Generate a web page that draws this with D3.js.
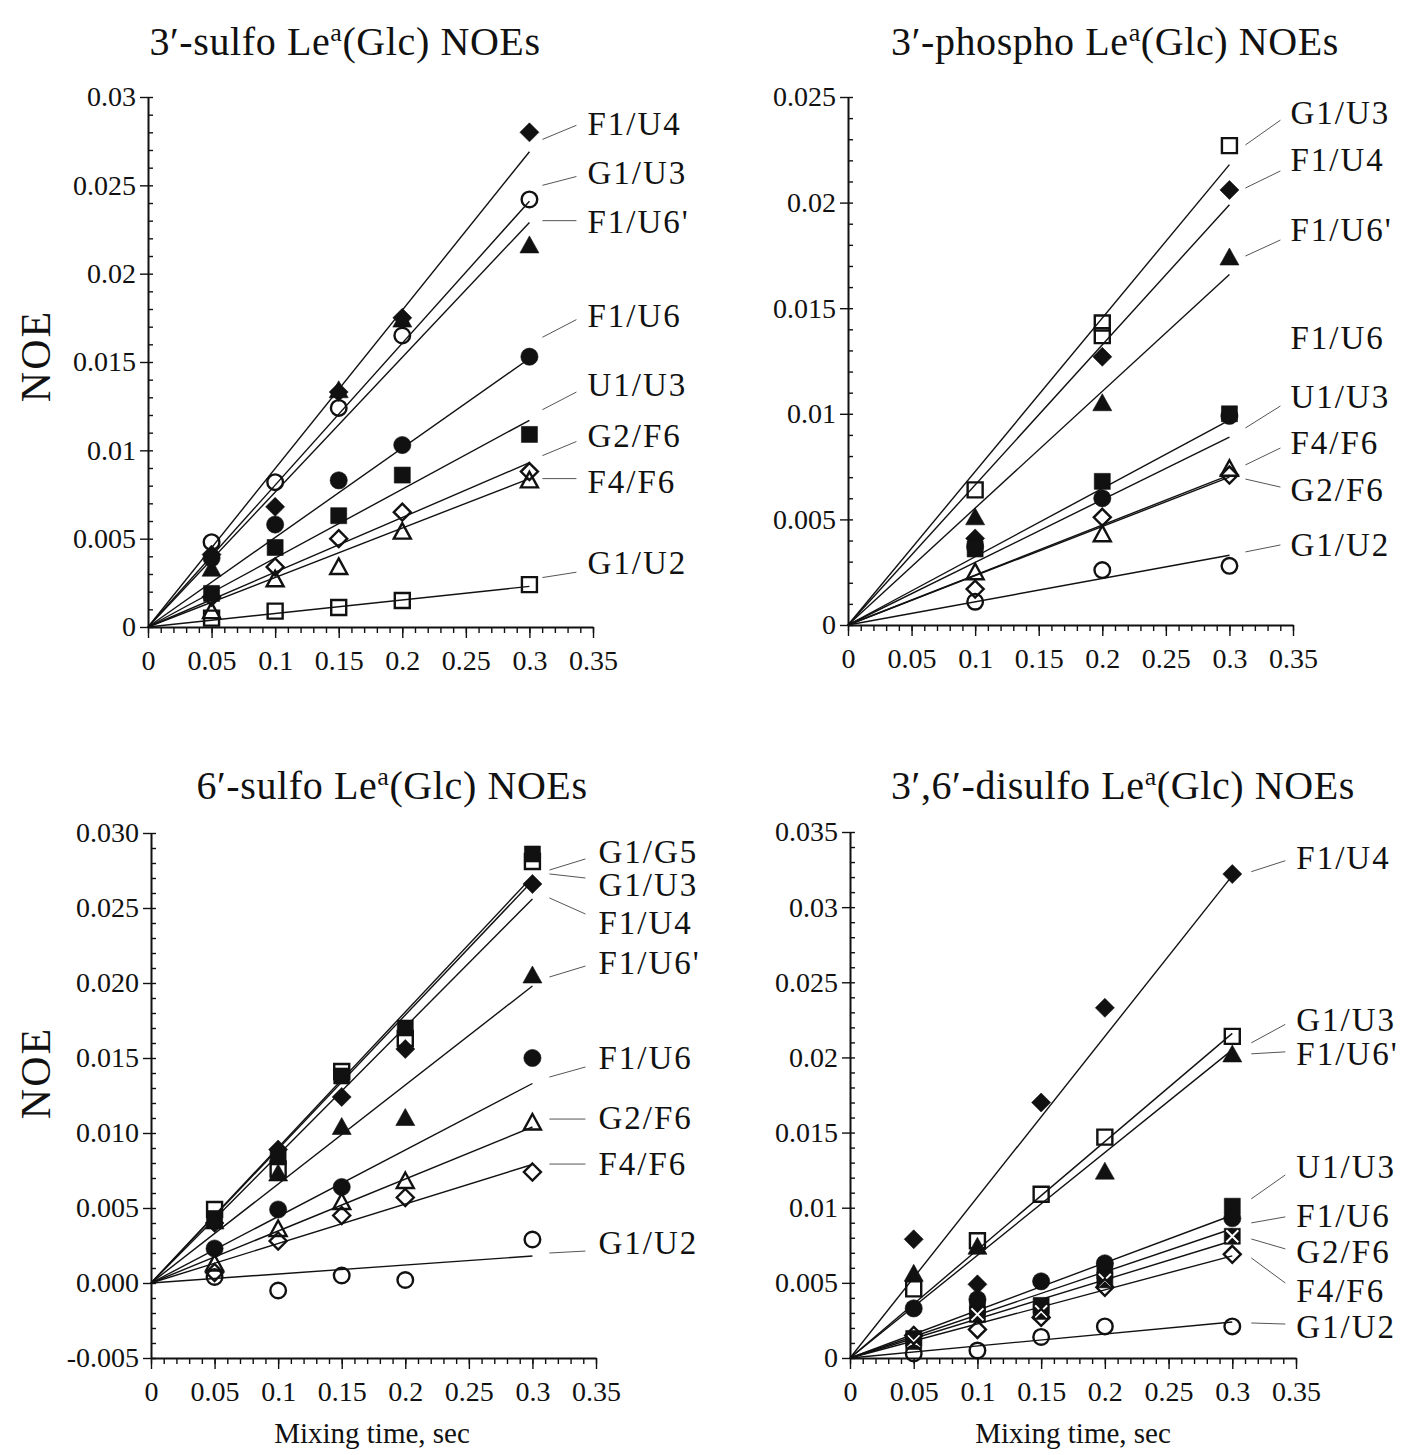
<!DOCTYPE html>
<html>
<head>
<meta charset="utf-8">
<script src="https://cdn.jsdelivr.net/npm/d3@7"></script>
<style>
  body { margin: 0; background: #fff; }
  svg { display: block; }
  text { font-family: "Liberation Serif", "Times New Roman", serif; fill: #111; }
</style>
</head>
<body>
<svg id="chart" width="1407" height="1455"></svg>
<script>
// ---------------- data ----------------
// Mixing times (s) at which NOEs were measured
const sulfoTimes    = [0.05, 0.1, 0.15, 0.2, 0.3];
const phosphoTimes  = [0.1, 0.2, 0.3];
const sulfo6Times   = [0.05, 0.1, 0.15, 0.2, 0.3];
const disulfoTimes  = [0.05, 0.1, 0.15, 0.2, 0.3];

// 3'-sulfo Le^a(Glc)
const sulfoPairs = ["F1/U4", "G1/U3", "F1/U6'", "F1/U6", "U1/U3", "G2/F6", "F4/F6", "G1/U2"];
const sulfoNOE = [
  [0.0041, 0.0068, 0.0133, 0.0175, 0.0280],
  [0.0048, 0.0082, 0.0124, 0.0165, 0.0242],
  [0.0033, null,   0.0134, 0.0174, 0.0216],
  [0.0039, 0.0058, 0.0083, 0.0103, 0.0153],
  [0.0019, 0.0045, 0.0063, 0.0086, 0.0109],
  [0.0017, 0.0034, 0.0050, 0.0065, 0.0088],
  [0.0009, 0.0027, 0.0034, 0.0054, 0.0083],
  [0.0005, 0.0009, 0.0011, 0.0015, 0.0024]
];
const sulfoFitAt300 = [0.0269, 0.0241, 0.0229, 0.0152, 0.0117, 0.0093, 0.0084, 0.0023];

// 3'-phospho Le^a(Glc)  (an inner array holds repeated measurements)
const phosphoPairs = ["G1/U3", "F1/U4", "F1/U6'", "F1/U6", "U1/U3", "F4/F6", "G2/F6", "G1/U2"];
const phosphoNOE = [
  [0.0064, [0.0143, 0.0137], 0.0227],
  [0.0041, 0.0127, 0.0206],
  [0.0051, 0.0105, 0.0174],
  [0.0037, 0.0060, 0.0099],
  [0.0036, 0.0068, 0.0100],
  [0.0025, 0.0043, 0.0074],
  [0.0017, 0.0051, 0.0071],
  [0.0011, 0.0026, 0.0028]
];
const phosphoFitAt300 = [0.0218, 0.0199, 0.0166, 0.0089, 0.0097, 0.0071, 0.0070, 0.0033];

// 6'-sulfo Le^a(Glc)
const sulfo6Pairs = ["G1/G5", "G1/U3", "F1/U4", "F1/U6'", "F1/U6", "G2/F6", "F4/F6", "G1/U2"];
const sulfo6NOE = [
  [0.0043, 0.0084, 0.0138, 0.0170, 0.0286],
  [0.0049, 0.0076, 0.0141, 0.0163, 0.0281],
  [0.0040, 0.0089, 0.0124, 0.0156, 0.0266],
  [0.0041, 0.0073, 0.0104, 0.0110, 0.0205],
  [0.0023, 0.0049, 0.0064, null,   0.0150],
  [0.0013, 0.0036, 0.0054, 0.0068, 0.0107],
  [0.0007, 0.0028, 0.0045, 0.0057, 0.0074],
  [0.0004, -0.0005, 0.0005, 0.0002, 0.0029]
];
const sulfo6FitAt300 = [0.0271, 0.0268, 0.0256, 0.0198, 0.0133, 0.0104, 0.0079, 0.0018];

// 3',6'-disulfo Le^a(Glc)
const disulfoPairs = ["F1/U4", "G1/U3", "F1/U6'", "U1/U3", "F1/U6", "G2/F6", "F4/F6", "G1/U2"];
const disulfoNOE = [
  [0.0079, 0.0049, 0.0170, 0.0233, 0.0322],
  [0.0046, 0.0078, 0.0109, 0.0147, 0.0214],
  [0.0056, 0.0074, null,   0.0124, 0.0202],
  [0.0013, 0.0034, 0.0035, 0.0058, 0.0101],
  [0.0033, 0.0039, 0.0051, 0.0063, 0.0093],
  [0.0011, 0.0029, 0.0031, 0.0052, 0.0081],
  [0.0015, 0.0019, 0.0027, 0.0047, 0.0069],
  [0.0003, 0.0005, 0.0014, 0.0021, 0.0021]
];
const disulfoFitAt300 = [0.0321, 0.0216, 0.0205, 0.0095, 0.0086, 0.0078, 0.0068, 0.0024];

// Tick labels
const xTickLabels          = ["0", "0.05", "0.1", "0.15", "0.2", "0.25", "0.3", "0.35"];
const sulfoYTickLabels     = ["0", "0.005", "0.01", "0.015", "0.02", "0.025", "0.03"];
const phosphoYTickLabels   = ["0", "0.005", "0.01", "0.015", "0.02", "0.025"];
const sulfo6YTickLabels    = ["-0.005", "0.000", "0.005", "0.010", "0.015", "0.020", "0.025", "0.030"];
const disulfoYTickLabels   = ["0", "0.005", "0.01", "0.015", "0.02", "0.025", "0.03", "0.035"];

// ---------------- styling & layout ----------------
const sulfoMarkers   = ["diamond", "circleOpen", "triangle", "circle", "square", "diamondOpen", "triangleOpen", "squareOpen"];
const phosphoMarkers = ["squareOpen", "diamond", "triangle", "circle", "square", "triangleOpen", "diamondOpen", "circleOpen"];
const sulfo6Markers  = ["square", "squareOpen", "diamond", "triangle", "circle", "triangleOpen", "diamondOpen", "circleOpen"];
const disulfoMarkers = ["diamond", "squareOpen", "triangle", "square", "circle", "boxX", "diamondOpen", "circleOpen"];

// Pair-label placement, in NOE units on each panel's y scale
const sulfoLabelY    = [0.0285, 0.0257, 0.0229, 0.0176, 0.0137, 0.0108, 0.0082, 0.0036];
const sulfoLeadFrom  = [0.0276, 0.0250, 0.0230, 0.0164, 0.0123, 0.0097, 0.0084, 0.0028];
const sulfoLeadTo    = [0.0284, 0.0255, 0.0230, 0.0174, 0.0133, 0.0105, 0.0084, 0.0031];
const phosphoLabelY   = [0.02424, 0.02202, 0.0187, 0.01359, 0.0108, 0.00862, 0.00639, 0.00379];
const phosphoLeadFrom = [0.02273, 0.02069, 0.01747, null, 0.00933, 0.00758, 0.00691, 0.00346];
const phosphoLeadTo   = [0.0239, 0.0215, 0.01823, null, 0.01037, 0.00838, 0.00653, 0.00379];
const sulfo6LabelY    = [0.02873, 0.02653, 0.0240, 0.02133, 0.0150, 0.0110, 0.00793, 0.00267];
const sulfo6LeadFrom  = [0.02753, 0.02727, 0.02567, 0.0204, 0.01373, 0.01093, 0.00793, 0.0020];
const sulfo6LeadTo    = [0.02827, 0.0270, 0.0246, 0.02113, 0.0144, 0.01093, 0.00793, 0.00213];
const disulfoLabelY   = [0.0333, 0.0225, 0.0202, 0.01272, 0.00945, 0.00706, 0.00446, 0.00206];
const disulfoLeadFrom = [0.03236, 0.02097, 0.02024, 0.01059, 0.00899, 0.00792, 0.00666, 0.00233];
const disulfoLeadTo   = [0.03309, 0.0222, 0.02037, 0.01218, 0.00939, 0.00726, 0.00499, 0.00226];

const panels = [
  { title: ["3\u2032-sulfo Le", "a", "(Glc) NOEs"], titleX: 345, titleY: 55,
    times: sulfoTimes, pairs: sulfoPairs, noe: sulfoNOE, fit: sulfoFitAt300, markers: sulfoMarkers,
    labelY: sulfoLabelY, leadFrom: sulfoLeadFrom, leadTo: sulfoLeadTo, yTicks: sulfoYTickLabels,
    left: 148, right: 593, top: 97, bottom: 627, yLabel: { x: 35, y: 356 }, xLabel: null,
    lead: [13, 47, 58] },
  { title: ["3\u2032-phospho Le", "a", "(Glc) NOEs"], titleX: 1115, titleY: 55,
    times: phosphoTimes, pairs: phosphoPairs, noe: phosphoNOE, fit: phosphoFitAt300, markers: phosphoMarkers,
    labelY: phosphoLabelY, leadFrom: phosphoLeadFrom, leadTo: phosphoLeadTo, yTicks: phosphoYTickLabels,
    left: 848, right: 1293, top: 97, bottom: 625, yLabel: null, xLabel: null,
    lead: [16, 51, 61] },
  { title: ["6\u2032-sulfo Le", "a", "(Glc) NOEs"], titleX: 392, titleY: 799,
    times: sulfo6Times, pairs: sulfo6Pairs, noe: sulfo6NOE, fit: sulfo6FitAt300, markers: sulfo6Markers,
    labelY: sulfo6LabelY, leadFrom: sulfo6LeadFrom, leadTo: sulfo6LeadTo, yTicks: sulfo6YTickLabels,
    left: 151, right: 596, top: 833, bottom: 1358, yLabel: { x: 35, y: 1073 }, xLabel: { x: 372, y: 1443 },
    lead: [17, 53, 66] },
  { title: ["3\u2032,6\u2032-disulfo Le", "a", "(Glc) NOEs"], titleX: 1123, titleY: 799,
    times: disulfoTimes, pairs: disulfoPairs, noe: disulfoNOE, fit: disulfoFitAt300, markers: disulfoMarkers,
    labelY: disulfoLabelY, leadFrom: disulfoLeadFrom, leadTo: disulfoLeadTo, yTicks: disulfoYTickLabels,
    left: 850, right: 1296, top: 832, bottom: 1358, yLabel: null, xLabel: { x: 1073, y: 1443 },
    lead: [19, 53, 64] }
];

// ---------------- drawing ----------------
const svg = d3.select("#chart");
svg.append("rect").attr("width", 1407).attr("height", 1455).attr("fill", "#fff");

function circlePath(r) {
  const p = d3.path();
  p.moveTo(r, 0);
  p.arc(0, 0, r, 0, 2 * Math.PI);
  p.closePath();
  return p.toString();
}

const markerShapes = {
  diamond:      { d: "M0,-9.5L9.5,0L0,9.5L-9.5,0Z", fill: true },
  diamondOpen:  { d: "M0,-8.5L8.5,0L0,8.5L-8.5,0Z", fill: false },
  square:       { d: "M-8,-8H8V8H-8Z", fill: true },
  squareOpen:   { d: "M-7.5,-7.5H7.5V7.5H-7.5Z", fill: false },
  triangle:     { d: "M0,-9.5L9.5,7.5L-9.5,7.5Z", fill: true },
  triangleOpen: { d: "M0,-8.5L8.5,7L-8.5,7Z", fill: false },
  circle:       { d: circlePath(8.6), fill: true },
  circleOpen:   { d: circlePath(7.8), fill: false },
  boxX:         { d: "M-8,-8H8V8H-8Z", fill: true, cross: "M-6,-6L6,6M6,-6L-6,6" }
};

panels.forEach(p => {
  const yVals = p.yTicks.map(Number);
  const yMin = d3.min(yVals), yMax = d3.max(yVals);
  const xVals = xTickLabels.map(Number);
  const x = d3.scaleLinear().domain([0, d3.max(xVals)]).range([p.left, p.right]);
  const y = d3.scaleLinear().domain([yMin, yMax]).range([p.bottom, p.top]);
  const g = svg.append("g");

  // title with superscript "a"
  const t = g.append("text")
    .attr("x", p.titleX).attr("y", p.titleY)
    .attr("text-anchor", "middle")
    .style("font-size", "40px").style("letter-spacing", "0.6px");
  t.append("tspan").text(p.title[0]);
  t.append("tspan").text(p.title[1]).attr("dy", -14).style("font-size", "26px");
  t.append("tspan").text(p.title[2]).attr("dy", 14);

  // x axis: major + minor ticks
  const xMinor = d3.range(0, Math.round(d3.max(xVals) / 0.01) + 1).map(i => i * 0.01);
  const xAxisG = g.append("g").attr("transform", `translate(0,${p.bottom})`);
  xAxisG.append("g")
    .call(d3.axisBottom(x).tickValues(xMinor).tickSize(6).tickFormat(""))
    .call(a => a.select(".domain").remove());
  xAxisG.append("g")
    .call(d3.axisBottom(x).tickValues(xVals).tickSize(11).tickSizeOuter(0).tickPadding(12)
      .tickFormat((d, i) => xTickLabels[i]));
  xAxisG.selectAll("line").attr("stroke", "#111").attr("stroke-width", 1.4);
  xAxisG.select(".domain").attr("stroke", "#111").attr("stroke-width", 2);
  xAxisG.selectAll("text").attr("font-family", null).attr("font-size", null)
    .style("font-size", "28px").attr("fill", "#111");

  // y axis: major ticks outward, minor ticks inward
  const nMinor = Math.round((yMax - yMin) / 0.001);
  const yMinor = d3.range(0, nMinor + 1).map(i => +(yMin + i * 0.001).toFixed(4));
  const yAxisG = g.append("g").attr("transform", `translate(${p.left},0)`);
  yAxisG.append("g")
    .call(d3.axisLeft(y).tickValues(yMinor).tickSize(-5).tickFormat(""))
    .call(a => a.select(".domain").remove());
  yAxisG.append("g")
    .call(d3.axisLeft(y).tickValues(yVals).tickSize(8).tickSizeOuter(0).tickPadding(4)
      .tickFormat((d, i) => p.yTicks[i]));
  yAxisG.selectAll("line").attr("stroke", "#111").attr("stroke-width", 1.4);
  yAxisG.select(".domain").attr("stroke", "#111").attr("stroke-width", 2);
  yAxisG.selectAll("text").attr("font-family", null).attr("font-size", null)
    .style("font-size", "28px").attr("fill", "#111");

  // axis titles
  if (p.yLabel) {
    g.append("text")
      .attr("transform", `translate(${p.yLabel.x + 15},${p.yLabel.y}) rotate(-90)`)
      .attr("text-anchor", "middle")
      .style("font-size", "42px").style("letter-spacing", "2px")
      .text("NOE");
  }
  if (p.xLabel) {
    g.append("text")
      .attr("x", p.xLabel.x).attr("y", p.xLabel.y)
      .attr("text-anchor", "middle")
      .style("font-size", "29px")
      .text("Mixing time, sec");
  }

  // fitted lines from the origin to the last mixing time
  const tEnd = d3.max(p.times);
  g.append("g").selectAll("line")
    .data(p.fit)
    .join("line")
    .attr("x1", x(0)).attr("y1", y(0))
    .attr("x2", x(tEnd)).attr("y2", d => y(d))
    .attr("stroke", "#111").attr("stroke-width", 1.4);

  // data points
  const pts = [];
  p.noe.forEach((row, si) => {
    row.forEach((v, ti) => {
      if (v === null) return;
      (Array.isArray(v) ? v : [v]).forEach(val => pts.push({ t: p.times[ti], v: val, m: p.markers[si] }));
    });
  });
  const mk = g.append("g").selectAll("g")
    .data(pts)
    .join("g")
    .attr("transform", d => `translate(${x(d.t)},${y(d.v)})`);
  mk.append("path")
    .attr("d", d => markerShapes[d.m].d)
    .attr("fill", d => markerShapes[d.m].fill ? "#111" : "none")
    .attr("stroke", "#111")
    .attr("stroke-width", d => markerShapes[d.m].fill ? 0.6 : 2.4)
    .attr("stroke-linejoin", "miter");
  mk.filter(d => markerShapes[d.m].cross)
    .append("path")
    .attr("d", d => markerShapes[d.m].cross)
    .attr("stroke", "#fff").attr("stroke-width", 2).attr("fill", "none");

  // pair labels and leader lines
  const xe = x(tEnd);
  p.pairs.forEach((name, i) => {
    if (p.leadFrom[i] !== null) {
      g.append("line")
        .attr("x1", xe + p.lead[0]).attr("y1", y(p.leadFrom[i]))
        .attr("x2", xe + p.lead[1]).attr("y2", y(p.leadTo[i]))
        .attr("stroke", "#555").attr("stroke-width", 1);
    }
    g.append("text")
      .attr("x", xe + p.lead[2]).attr("y", y(p.labelY[i]) + 11)
      .style("font-size", "33px").style("letter-spacing", "2px")
      .text(name);
  });
});
</script>
</body>
</html>
